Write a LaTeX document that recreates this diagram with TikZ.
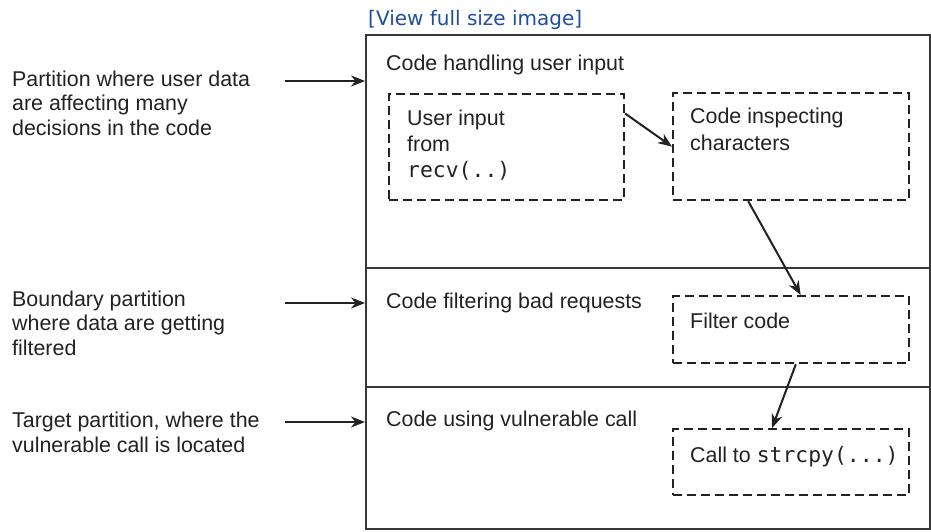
\documentclass[tikz,border=0pt]{standalone}
\usepackage{fontspec}
\setmainfont{Liberation Sans}
\newfontfamily\monofont{DejaVu Sans Mono}
\newfontfamily\linkfont{DejaVu Sans}
\usetikzlibrary{arrows.meta,calc}
\definecolor{ink}{HTML}{222222}
\definecolor{linkblue}{HTML}{1F4EA0}
\begin{document}
\begin{tikzpicture}[x=1pt,y=-1pt,
  txt/.style={inner sep=0pt, anchor=base west, align=left, text=ink, font=\fontsize{21.4}{24.5}\selectfont},
  dbox/.style={draw=ink, line width=2.2pt, dash pattern=on 9pt off 5pt, inner sep=0pt, anchor=north west},
  arr/.style={draw=ink, line width=2pt, -{Stealth[length=14pt,width=11pt]}},
  frame/.style={draw=ink!90, line width=2.2pt}]
\useasboundingbox (0,0) rectangle (931,531);
\fill[white] (0,0) rectangle (931,531);

% link
\node[inner sep=0pt, anchor=base west, text=linkblue, font=\linkfont\fontsize{20}{22}\selectfont] (link) at (368,25) {[View full size image]};

% main frame
\node[frame, inner sep=0pt, anchor=north west, minimum width=564pt, minimum height=494pt] (main) at (365,34) {};
\coordinate (d1w) at (365,268); \coordinate (d1e) at (929,268);
\coordinate (d2w) at (365,387); \coordinate (d2e) at (929,387);
\draw[frame] (d1w) -- (d1e);
\draw[frame] (d2w) -- (d2e);

% partition titles
\node[txt] (t1) at (386,70) {Code handling user input};
\node[txt] (t2) at (386,308) {Code filtering bad requests};
\node[txt] (t3) at (386,426) {Code using vulnerable call};

% dashed boxes
\node[dbox, minimum width=235pt, minimum height=106pt] (ui) at (388,93) {};
\node[dbox, minimum width=236pt, minimum height=107pt] (ci) at (672,92) {};
\node[dbox, minimum width=236pt, minimum height=67pt] (fc) at (672,295) {};
\node[dbox, minimum width=236pt, minimum height=66pt] (sc) at (672,428) {};

% (base anchor of a multi-line node = baseline of its last line)
\node[txt, font=\fontsize{21.4}{26}\selectfont] (uit) at (407,177) {User input\\from\\{\monofont recv(..)}};
\node[txt, font=\fontsize{21.4}{27}\selectfont] (cit) at (690,150) {Code inspecting\\characters};
\node[txt] (fct) at (690,328) {Filter code};
\node[txt] (sct) at (690,462) {Call to {\monofont strcpy(...)}};

% inner arrows
\draw[arr] ($(ui.north east)!0.19!(ui.south east)$) -- (ci.west);
\draw[arr] ($(ci.south west)!0.32!(ci.south east)$) -- ($(fc.north west)!0.54!(fc.north east)$);
\draw[arr] ($(fc.south west)!0.52!(fc.south east)$) -- ($(sc.north west)!0.42!(sc.north east)$);

% left labels
\node[txt] (l1) at (12,135) {Partition where user data\\are affecting many\\decisions in the code};
\node[txt] (l2) at (12,355) {Boundary partition\\where data are getting\\filtered};
\node[txt] (l3) at (12,452) {Target partition, where the\\vulnerable call is located};

\coordinate (a1) at (285,81); \coordinate (b1) at (365,81);
\coordinate (a2) at (285,303); \coordinate (b2) at (365,303);
\coordinate (a3) at (285,422); \coordinate (b3) at (365,422);
\draw[arr] (a1) -- (b1);
\draw[arr] (a2) -- (b2);
\draw[arr] (a3) -- (b3);
\end{tikzpicture}
\end{document}
